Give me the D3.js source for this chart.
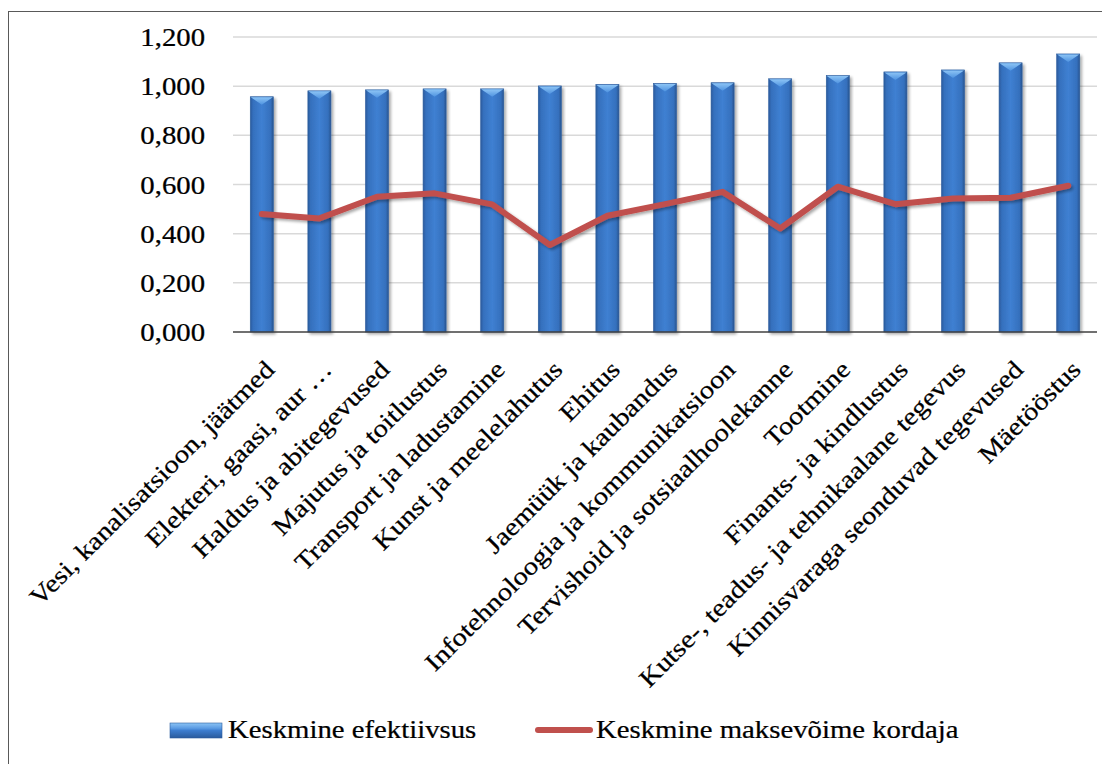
<!DOCTYPE html>
<html>
<head>
<meta charset="utf-8">
<script src="https://cdn.jsdelivr.net/npm/d3@7"></script>
<style>
  html, body { margin: 0; padding: 0; background: #fff; }
  svg { display: block; font-family: "Liberation Serif", "Times New Roman", serif; }
  .lbl { fill: #000; stroke: #000; stroke-width: 0.25px; }
</style>
</head>
<body>
<svg id="chart" width="1102" height="764"></svg>
<script>
// Sectors, average efficiency (bars) and average solvency ratio (line)
const categories = [
  "Vesi, kanalisatsioon, jäätmed",
  "Elekteri, gaasi, aur …",
  "Haldus ja abitegevused",
  "Majutus ja toitlustus",
  "Transport ja ladustamine",
  "Kunst ja meelelahutus",
  "Ehitus",
  "Jaemüük ja kaubandus",
  "Infotehnoloogia ja kommunikatsioon",
  "Tervishoid ja sotsiaalhoolekanne",
  "Tootmine",
  "Finants- ja kindlustus",
  "Kutse-, teadus- ja tehnikaalane tegevus",
  "Kinnisvaraga seonduvad tegevused",
  "Mäetööstus"
];
const efficiency = [0.957, 0.981, 0.985, 0.989, 0.989, 1.001, 1.007, 1.011, 1.014, 1.030, 1.043, 1.058, 1.066, 1.095, 1.131];
const solvency   = [0.480, 0.462, 0.550, 0.564, 0.519, 0.354, 0.473, 0.520, 0.570, 0.421, 0.591, 0.520, 0.543, 0.546, 0.595];
const yTicks = [0, 0.2, 0.4, 0.6, 0.8, 1.0, 1.2];
const seriesNames = ["Keskmine efektiivsus", "Keskmine maksevõime kordaja"];

const svg = d3.select("#chart");
const plot = { left: 233, right: 1097, top: 37, bottom: 332 };
const fontSize = 25;
const stretch = 1.15;   // text is set wide along its baseline

const x = d3.scaleBand().domain(categories).range([plot.left, plot.right]).paddingInner(0.6).paddingOuter(0.3);
const y = d3.scaleLinear().domain([0, 1.2]).range([plot.bottom, plot.top]);
const fmt = v => d3.format(".3f")(v).replace(".", ",");

// gradients and shadow
const defs = svg.append("defs");
const barGrad = defs.append("linearGradient").attr("id", "barGrad").attr("x1", "0").attr("x2", "1").attr("y1", "0").attr("y2", "0");
[[0, "#2a5a9c"], [0.12, "#3570bd"], [0.5, "#3f80d2"], [0.88, "#3570bd"], [1, "#28548f"]]
  .forEach(([o, c]) => barGrad.append("stop").attr("offset", o).attr("stop-color", c));
const capGrad = defs.append("linearGradient").attr("id", "capGrad").attr("x1", "0").attr("x2", "0").attr("y1", "0").attr("y2", "1");
[[0, "#8cc4f5"], [1, "#4f93e0"]].forEach(([o, c]) => capGrad.append("stop").attr("offset", o).attr("stop-color", c));
const legGrad = defs.append("linearGradient").attr("id", "legGrad").attr("x1", "0").attr("x2", "0").attr("y1", "0").attr("y2", "1");
[[0, "#8cc4f5"], [0.35, "#5b9be3"], [0.5, "#3d7dcf"], [1, "#2a5a9c"]]
  .forEach(([o, c]) => legGrad.append("stop").attr("offset", o).attr("stop-color", c));
const sh = defs.append("filter").attr("id", "shadow").attr("x", "-20%").attr("y", "-20%").attr("width", "140%").attr("height", "140%");
sh.append("feGaussianBlur").attr("in", "SourceAlpha").attr("stdDeviation", 1.6);
sh.append("feOffset").attr("dx", 2).attr("dy", 2).attr("result", "b");
sh.append("feComponentTransfer").append("feFuncA").attr("type", "linear").attr("slope", 0.35);
const m = sh.append("feMerge");
m.append("feMergeNode");
m.append("feMergeNode").attr("in", "SourceGraphic");

// outer frame
svg.append("rect").attr("x", 8.5).attr("y", 11.5).attr("width", 1110).attr("height", 770)
  .attr("fill", "none").attr("stroke", "#595959").attr("stroke-width", 1);

// gridlines
svg.append("g").selectAll("line").data(yTicks.filter(d => d > 0)).join("line")
  .attr("x1", plot.left).attr("x2", plot.right)
  .attr("y1", d => y(d)).attr("y2", d => y(d))
  .attr("stroke", "#d9d9d9").attr("stroke-width", 1.5);

// y axis labels
const yAxis = d3.axisLeft(y).tickValues(yTicks).tickFormat(fmt).tickSize(0).tickPadding(0);
const gy = svg.append("g").attr("transform", `translate(${plot.left - 28},0)`).call(yAxis);
gy.attr("font-family", null).attr("font-size", null);
gy.select(".domain").remove();
gy.selectAll("text")
  .attr("class", "lbl").attr("font-size", fontSize)
  .attr("transform", `scale(${stretch},1)`)
  .attr("dy", "0.34em");

// bars
const bars = svg.append("g").selectAll("g").data(categories).join("g").attr("filter", "url(#shadow)");
bars.append("rect")
  .attr("x", d => x(d)).attr("width", x.bandwidth())
  .attr("y", (d, i) => y(efficiency[i])).attr("height", (d, i) => y(0) - y(efficiency[i]))
  .attr("fill", "url(#barGrad)").attr("stroke", "#2c5d9e").attr("stroke-width", 0.6);
bars.append("path")
  .attr("d", (d, i) => {
    const x0 = x(d), w = x.bandwidth(), t = y(efficiency[i]);
    return `M${x0 + 0.5},${t + 0.5} L${x0 + w - 0.5},${t + 0.5} L${x0 + w / 2},${t + 8} Z`;
  })
  .attr("fill", "url(#capGrad)");

// x axis line
svg.append("line").attr("x1", plot.left).attr("x2", plot.right)
  .attr("y1", y(0)).attr("y2", y(0)).attr("stroke", "#404040").attr("stroke-width", 1.3);

// line series
const line = d3.line().x((d, i) => x(categories[i]) + x.bandwidth() / 2).y(d => y(d));
svg.append("path").datum(solvency)
  .attr("d", line).attr("fill", "none")
  .attr("stroke", "#c0504d").attr("stroke-width", 6)
  .attr("stroke-linejoin", "round").attr("stroke-linecap", "round")
  .attr("filter", "url(#shadow)");

// category labels, rotated 45 degrees and ending under each bar
svg.append("g").selectAll("text").data(categories).join("text")
  .attr("class", "lbl")
  .attr("transform", d => `translate(${x(d) + x.bandwidth() / 2 + 14},371) rotate(-45) scale(${stretch},1)`)
  .attr("text-anchor", "end").attr("font-size", fontSize)
  .text(d => d);

// legend
const lg = svg.append("g");
lg.append("rect").attr("x", 170).attr("y", 723).attr("width", 52).attr("height", 15)
  .attr("fill", "url(#legGrad)").attr("stroke", "#2c5d9e").attr("stroke-width", 0.6);
lg.append("text").attr("class", "lbl").attr("transform", `translate(228,738) scale(${stretch},1)`)
  .attr("font-size", fontSize).text(seriesNames[0]);
lg.append("line").attr("x1", 538).attr("x2", 590).attr("y1", 730).attr("y2", 730)
  .attr("stroke", "#c0504d").attr("stroke-width", 6).attr("stroke-linecap", "round");
lg.append("text").attr("class", "lbl").attr("transform", `translate(596,738) scale(${stretch},1)`)
  .attr("font-size", fontSize).text(seriesNames[1]);
</script>
</body>
</html>
